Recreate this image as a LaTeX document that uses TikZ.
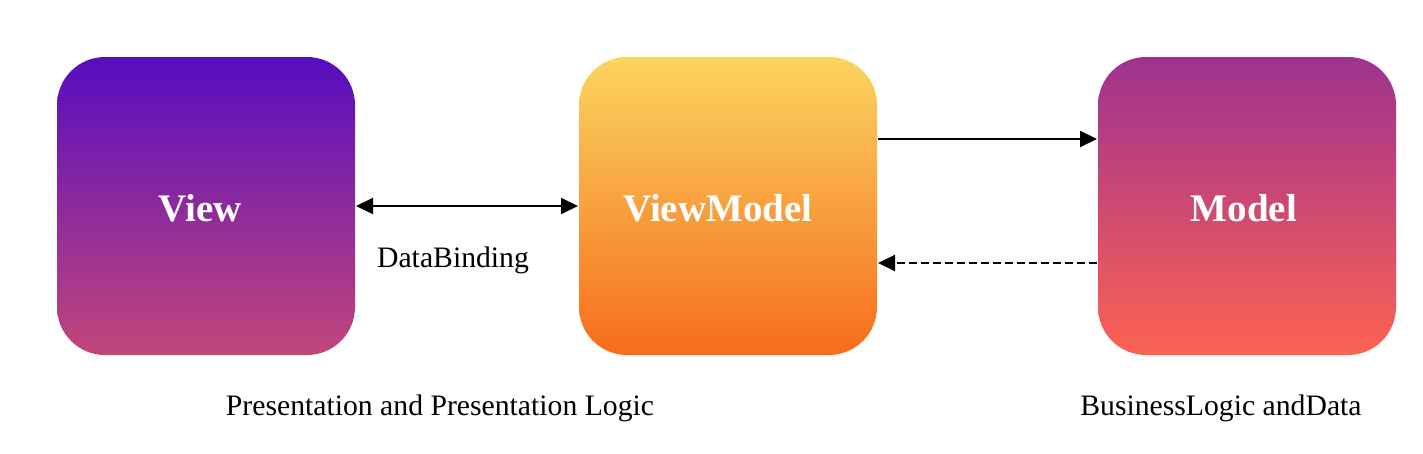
\documentclass[tikz,border=0pt]{standalone}
\usepackage{fontspec}
\setmainfont{Liberation Serif}
\usetikzlibrary{arrows.meta,positioning}

\tikzset{
  layer/.style={minimum width=298pt,minimum height=298pt,rounded corners=48pt,inner sep=0pt},
  title/.style={text=white,font=\bfseries\fontsize{39}{39}\selectfont,inner sep=0pt},
  note/.style={font=\fontsize{29.7}{30}\selectfont,inner sep=0pt}
}

\begin{document}
\begin{tikzpicture}[x=1pt,y=-1pt,>={Triangle[length=17pt,width=16pt]},line width=2pt]
    \useasboundingbox (0,0) rectangle (1423,453);
    \node[layer,top color={rgb,255:red,86;green,13;blue,192},bottom color={rgb,255:red,194;green,70;blue,122}] (view) at (206,206) {};
    \node[layer,top color={rgb,255:red,250;green,213;blue,96},bottom color={rgb,255:red,247;green,108;blue,28}] (vm) at (728,206) {};
    \node[layer,top color={rgb,255:red,158;green,50;blue,143},bottom color={rgb,255:red,252;green,98;blue,82}] (model) at (1247,206) {};
    % titles sit a little left of centre
    \node[title] (viewtitle) at ([xshift=-6pt,yshift=-2pt]view.center) {View};
    \node[title] (vmtitle) at ([xshift=-10pt,yshift=-2pt]vm.center) {ViewModel};
    \node[title] (modeltitle) at ([xshift=-3pt,yshift=-2pt]model.center) {Model};
    \draw[<->] (view.east) -- (vm.west);
    \node[note] (bind) at (453,260) {DataBinding};
    \draw[->] ([yshift=67pt]vm.east) -- ([yshift=67pt]model.west);
    \draw[->,dash pattern=on 8pt off 4pt] ([yshift=-57pt]model.west) -- ([yshift=-57pt]vm.east);
    \node[note] (pres) at (440,408) {Presentation and Presentation Logic};
    \node[note] (biz) at (1221,408) {BusinessLogic andData};
\end{tikzpicture}
\end{document}
